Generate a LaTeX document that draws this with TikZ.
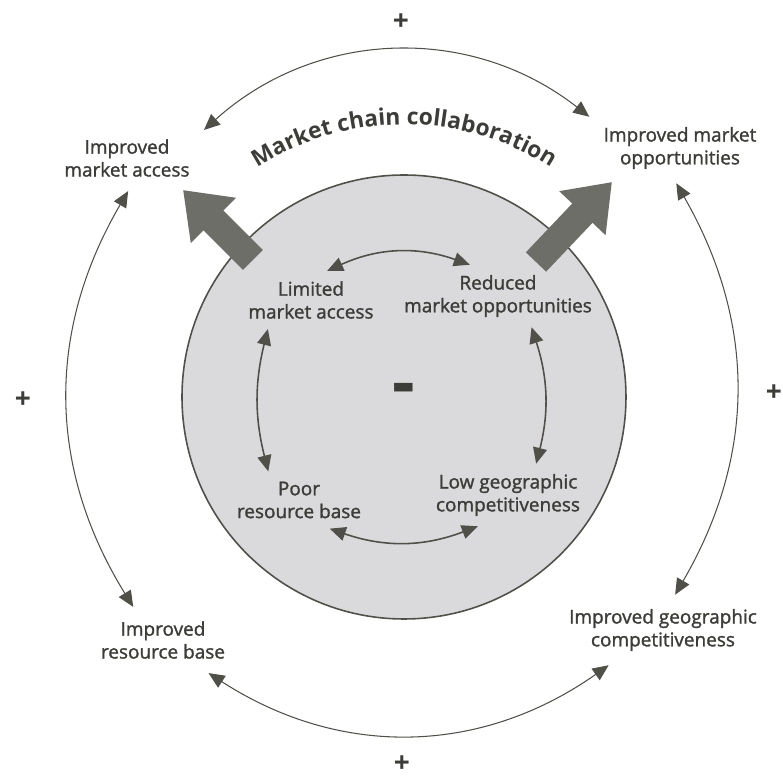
\documentclass[tikz,border=0pt]{standalone}
\usepackage{fontspec}
\setmainfont{Open Sans}
\newfontfamily\labelfont{Open Sans}[FakeBold=1.4]
\usetikzlibrary{positioning, arrows.meta, decorations.text}

\definecolor{ink}{HTML}{3C3C38}
\definecolor{line}{HTML}{505049}
\definecolor{arrowgray}{HTML}{6E6E68}
\definecolor{corefill}{HTML}{DADADC}

\begin{document}
\begin{tikzpicture}[
    goal/.style={align=center, text=ink, font=\labelfont\fontsize{10.8}{13}\selectfont, inner sep=0.28cm},
    issue/.style={goal, inner sep=0.2cm},
    sign/.style={text=ink, font=\bfseries\fontsize{16}{16}\selectfont, inner sep=1pt},
    link/.style={{Triangle[length=3.2mm,width=2.8mm]}-{Triangle[length=3.2mm,width=2.8mm]}, draw=line, line width=0.6pt},
    inlink/.style={link, line width=0.9pt},
    bigarrow/.style={-{Triangle[length=0.86cm,width=1.22cm]}, draw=arrowgray, line width=0.56cm}
]
    \useasboundingbox (-8.08,-7.62) rectangle (7.58,7.94);

    % Core circle
    \node[circle, fill=corefill, draw=line, line width=0.9pt, minimum size=8.88cm] (core) at (0,0) {};
    \node[text=ink, font=\bfseries\fontsize{40}{40}\selectfont] (minus) at (0,0.05) {-};

    % Collaboration arrows
    \coordinate (lt) at (-3.02,2.74);
    \coordinate (lh) at (-4.42,4.14);
    \coordinate (rt) at (2.64,2.7);
    \coordinate (rh) at (4.16,4.3);
    \draw[bigarrow] (lt) -- (lh);
    \draw[bigarrow] (rt) -- (rh);

    \path[decorate, decoration={text along path, text align=center, text color=ink,
        text={|\bfseries\fontsize{13}{13}\selectfont|Market chain collaboration}}]
        (126:5.45) arc[start angle=126, end angle=54, radius=5.45];

    % Inner problems
    \node[issue] (lim) at (-1.86,1.94) {Limited\\market access};
    \node[issue] (red) at (1.88,2.02) {Reduced\\market opportunities};
    \node[issue] (poor) at (-2.1,-2.06) {Poor\\resource base};
    \node[issue] (low) at (2.08,-1.96) {Low geographic\\competitiveness};

    \draw[inlink] (lim.61) to[bend left=22] (red.132);
    \draw[inlink] (red.317) to[bend left=16] (low.48);
    \draw[inlink] (poor.317) to[bend right=20] (low.226);
    \draw[inlink] (lim.214) to[bend right=14] (poor.137);

    % Outer improvements
    \node[goal] (ima) at (-5.54,4.78) {Improved\\market access};
    \node[goal] (imo) at (5.52,4.98) {Improved market\\opportunities};
    \node[goal] (irb) at (-4.82,-4.86) {Improved\\resource base};
    \node[goal] (igc) at (5.18,-4.66) {Improved geographic\\competitiveness};

    \draw[link] (ima.20) to[bend left=40] (imo.161);
    \draw[link] (imo.264) to[bend left=30] (igc.71);
    \draw[link] (irb.-36) to[bend right=34] (igc.213);
    \draw[link] (ima.272) to[bend right=31] (irb.132);

    % Signs
    \foreach \n/\x/\y in {pt/-0.06/7.5, pb/-0.04/-7.34, pl/-7.62/-0.06, pr/7.4/0.08} {
        \node[sign] (\n) at (\x,\y) {+};
    }

\end{tikzpicture}
\end{document}
